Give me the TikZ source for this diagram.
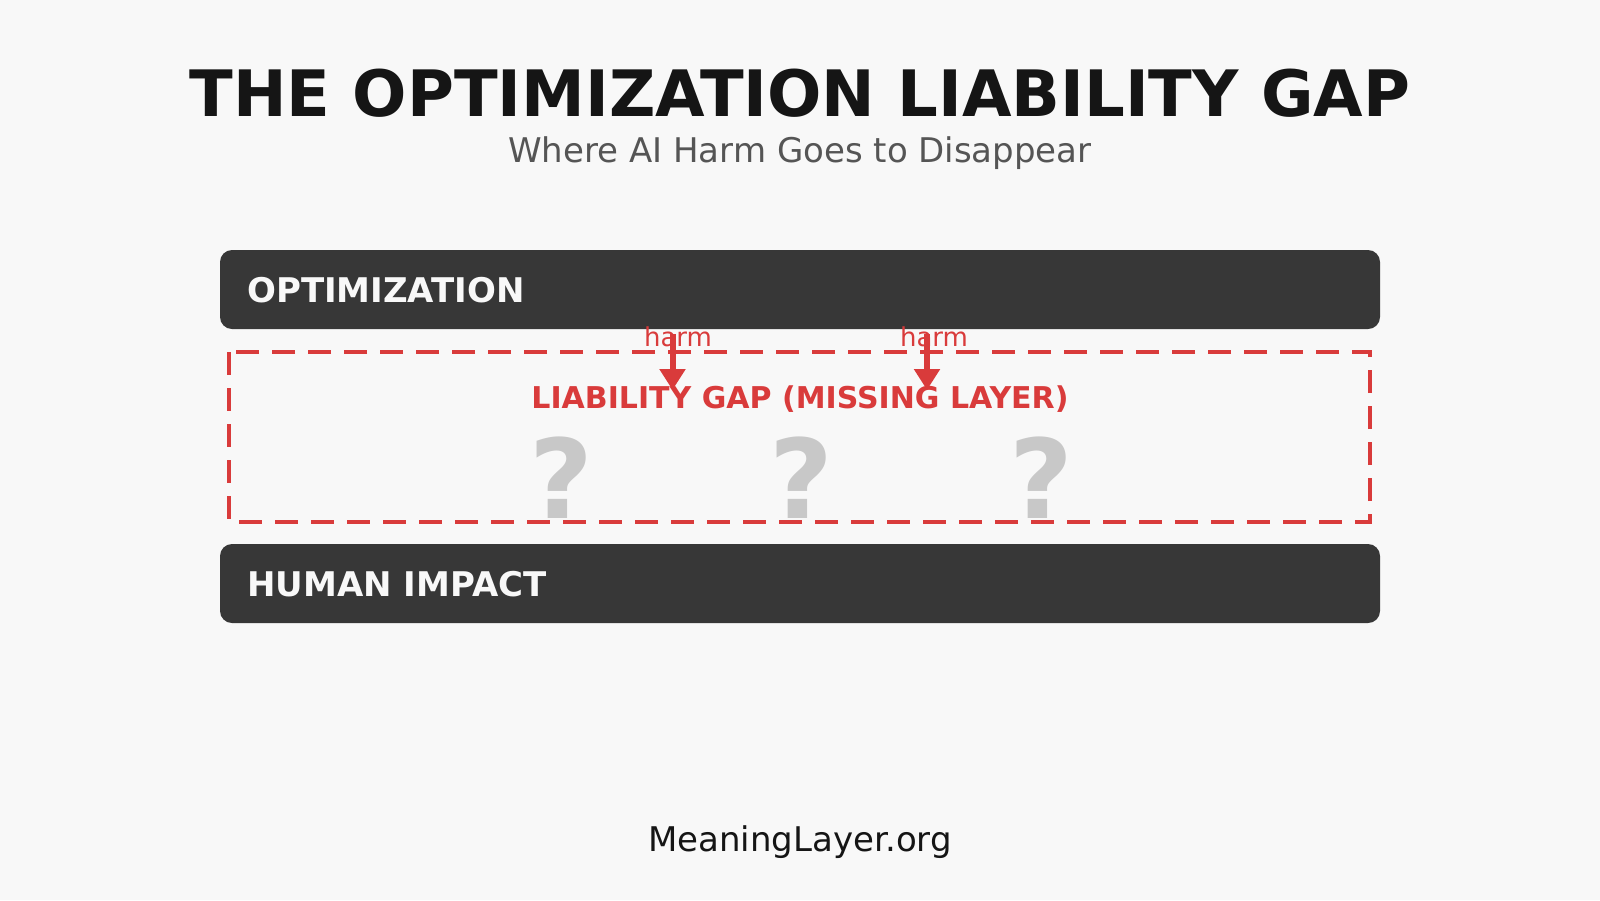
\documentclass[tikz,border=0pt]{standalone}
\usepackage{fontspec}
\setmainfont{DejaVu Sans}
\usetikzlibrary{arrows.meta,positioning}
\definecolor{bgc}{HTML}{F8F8F8}
\definecolor{barc}{HTML}{373737}
\definecolor{gapred}{HTML}{D93B3B}
\definecolor{qgray}{HTML}{C8C8C8}
\definecolor{subgray}{HTML}{555555}
\definecolor{inkc}{HTML}{151515}
\tikzstyle{bar}=[rectangle,rounded corners=12pt,fill=barc,inner sep=0pt,minimum width=1160pt,minimum height=79pt]
\tikzstyle{barlabel}=[anchor=base west,inner sep=0pt,text=bgc,font=\fontsize{34}{34}\selectfont\bfseries]
\tikzstyle{qmark}=[anchor=base,inner sep=0pt,text=qgray,font=\fontsize{110}{110}\selectfont\bfseries]
\tikzstyle{harmlabel}=[anchor=base,inner sep=0pt,text=gapred,font=\fontsize{26}{26}\selectfont]
\tikzstyle{harmarrow}=[-{Triangle[length=21pt,width=25pt]},draw=gapred,line width=6pt]
\begin{document}
\begin{tikzpicture}[x=1pt,y=-1pt]
\fill[bgc] (0,0) rectangle (1600,900);
\useasboundingbox (0,0) rectangle (1600,900);
% title
\node[anchor=base,inner sep=0pt,text=inkc,font=\fontsize{64}{64}\selectfont\bfseries] (T) at (800,116) {THE OPTIMIZATION LIABILITY GAP};
\node[anchor=base,inner sep=0pt,text=subgray,font=\fontsize{34}{34}\selectfont] (S) at (800,162) {Where AI Harm Goes to Disappear};
% layers
\node[bar] (O) at (800,289.5) {};
\node[barlabel] (OL) at (247,302) {OPTIMIZATION};
\draw[gapred,line width=4.5pt,dash pattern=on 23pt off 13pt] (229,352) rectangle (1370,522);
\node[anchor=base,inner sep=0pt,text=gapred,font=\fontsize{30}{30}\selectfont\bfseries] (G) at (800,408) {LIABILITY GAP (MISSING LAYER)};
\node[qmark] (Q1) at (561,518) {?};
\node[qmark] (Q2) at (801,518) {?};
\node[qmark] (Q3) at (1041,518) {?};
\node[bar] (H) at (800,583.5) {};
\node[barlabel] (HL) at (247,596) {HUMAN IMPACT};
% harm arrows
\node[harmlabel] (H1) at (678,346) {harm};
\node[harmlabel] (H2) at (934,346) {harm};
\coordinate (a1) at (672.5,334);
\coordinate (b1) at (672.5,390);
\coordinate (a2) at (927,334);
\coordinate (b2) at (927,390);
\draw[harmarrow] (a1) -- (b1);
\draw[harmarrow] (a2) -- (b2);
%
\node[anchor=base,inner sep=0pt,text=inkc,font=\fontsize{34}{34}\selectfont] (F) at (800,851) {MeaningLayer.org};
\end{tikzpicture}
\end{document}
